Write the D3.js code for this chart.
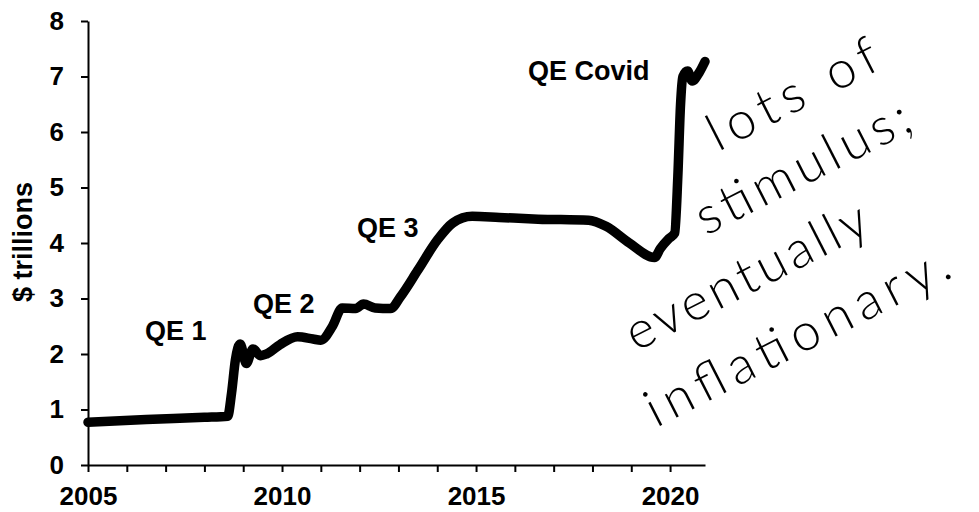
<!DOCTYPE html>
<html lang="en">
<head>
    <meta charset="UTF-8">
    <title>Fed balance sheet</title>
    <script src="https://d3js.org/d3.v7.min.js"></script>
    <style>
        body { margin: 0; background: white; }
        svg { display: block; background: white; }
        .axis path, .axis line { stroke: black; stroke-width: 2px; }
        .axis text, .lbl {
            font-family: "Liberation Sans", Arial, sans-serif;
            font-weight: bold;
            fill: black;
        }
        .hand {
            font-family: Lato, "DejaVu Sans", sans-serif;
            font-weight: 300;
            fill: black;
        }
    </style>
</head>
<body>
<svg></svg>
<script>
const [width, height] = [979, 512]

// balance sheet, $ trillions
const years = [2005.0, 2006.5, 2008.0, 2008.6, 2008.7, 2008.8, 2008.92, 2009.08, 2009.25, 2009.45,
    2009.6, 2009.95, 2010.4, 2010.8, 2011.0, 2011.3, 2011.55, 2011.9, 2012.1, 2012.4,
    2012.8, 2013.05, 2013.5, 2014.0, 2014.4, 2014.9, 2015.6, 2016.6, 2017.9, 2018.35,
    2018.95, 2019.6, 2019.75, 2019.97, 2020.12, 2020.2, 2020.27, 2020.33, 2020.45, 2020.57,
    2020.75, 2020.9]
const trillions = [0.77, 0.82, 0.86, 0.88, 1.3, 1.9, 2.18, 1.83, 2.09, 1.97,
    2.0, 2.17, 2.31, 2.27, 2.25, 2.5, 2.83, 2.82, 2.9, 2.83,
    2.82, 3.03, 3.51, 4.05, 4.36, 4.48, 4.46, 4.43, 4.41, 4.3,
    4.0, 3.74, 3.9, 4.08, 4.18, 5.2, 6.5, 7.0, 7.1, 6.92,
    7.07, 7.27]

const yTicks = [0, 1, 2, 3, 4, 5, 6, 7, 8]
const xTicks = d3.range(2005, 2021)
const xLabels = [2005, 2010, 2015, 2020]

const qeNames = ['QE 1', 'QE 2', 'QE 3', 'QE Covid']
const qeYear = [2006.47, 2009.25, 2011.93, 2016.34]
const qeVal = [2.25, 2.74, 4.11, 6.94]

const note = ['lots of', 'stimulus;', 'eventually', 'inflationary.']

const svg = d3.select('svg').attr('width', width).attr('height', height)

const x = d3.scaleLinear().domain([2005, 2020.9]).range([88, 705])
const y = d3.scaleLinear().domain([0, 8]).range([465, 21])

svg.append('g').attr('class', 'axis')
    .attr('transform', `translate(0,${y(0)})`)
    .call(d3.axisBottom(x).tickValues(xTicks).tickSize(7).tickPadding(15)
        .tickSizeOuter(0)
        .tickFormat(d => xLabels.includes(d) ? d : ''))
    .call(g => g.selectAll('text').attr('font-size', 26))

svg.append('g').attr('class', 'axis')
    .attr('transform', `translate(${x(2005)},0)`)
    .call(d3.axisLeft(y).tickValues(yTicks).tickSize(7).tickPadding(17)
        .tickSizeOuter(0))
    .call(g => g.selectAll('text').attr('font-size', 26))

svg.append('text').attr('class', 'lbl')
    .attr('transform', 'translate(32,242)rotate(-90)')
    .attr('text-anchor', 'middle').attr('font-size', 27)
    .text('$ trillions')

const line = d3.line()
    .x((d, i) => x(years[i]))
    .y(d => y(d))
    .curve(d3.curveMonotoneX)

svg.append('path')
    .attr('d', line(trillions))
    .attr('fill', 'none').attr('stroke', 'black')
    .attr('stroke-width', 9.5)
    .attr('stroke-linejoin', 'round').attr('stroke-linecap', 'round')

svg.selectAll('.qe').data(qeNames).join('text')
    .attr('class', 'lbl').attr('font-size', 27)
    .attr('x', (d, i) => x(qeYear[i])).attr('y', (d, i) => y(qeVal[i]))
    .text(d => d)

// handwritten note
const noteStart = [[718, 152], [706, 236], [636, 352], [656, 428]]
const noteLen = [185, 235, 265, 335]
svg.selectAll('.hand').data(note).join('text')
    .attr('class', 'hand').attr('font-size', 52)
    .attr('transform', (d, i) => `translate(${noteStart[i]})rotate(-27)`)
    .attr('textLength', (d, i) => noteLen[i])
    .attr('lengthAdjust', 'spacing')
    .text(d => d)
</script>
</body>
</html>
